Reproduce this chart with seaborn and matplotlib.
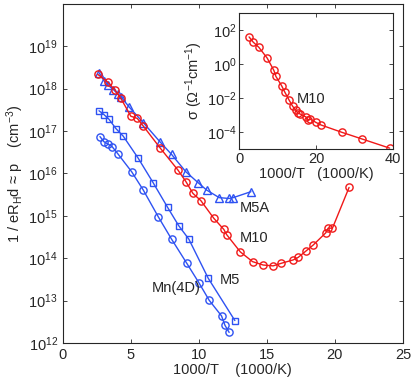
import numpy as np
import pandas as pd
import matplotlib
matplotlib.use("Agg")
import matplotlib.pyplot as plt
import seaborn as sns

# ================================
# Data
# ================================
mn4d_x = [2.74, 3.03, 3.35, 3.64, 4.04, 5.07, 5.92, 7.02, 8.00, 9.10, 10.03, 10.76, 11.67, 11.92, 12.23]
mn4d_logp = [16.87, 16.75, 16.69, 16.63, 16.47, 16.04, 15.61, 14.98, 14.45, 13.89, 13.41, 13.01, 12.64, 12.42, 12.25]

m5_x = [2.67, 3.03, 3.40, 3.91, 4.45, 5.55, 6.65, 7.71, 8.52, 9.27, 10.69, 12.65]
m5_logp = [17.48, 17.39, 17.28, 17.06, 16.88, 16.36, 15.78, 15.20, 14.77, 14.45, 13.53, 12.53]

m5a_x = [2.67, 3.03, 3.35, 3.72, 4.08, 4.28, 4.88, 5.92, 7.14, 8.00, 9.05, 9.96, 10.57, 11.50, 12.23, 12.53, 13.83]
m5a_logp = [18.38, 18.19, 18.08, 17.98, 17.87, 17.81, 17.57, 17.20, 16.75, 16.45, 16.04, 15.78, 15.61, 15.43, 15.41, 15.43, 15.57]

m10_x = [2.57, 3.30, 3.84, 4.28, 5.01, 5.48, 5.92, 7.14, 8.47, 9.05, 9.57, 10.15, 11.11, 11.84, 12.04,
         13.05, 13.95, 14.73, 15.46, 16.05, 16.93, 17.30, 17.91, 18.40, 19.33, 19.50, 19.82, 21.04]
m10_logp = [18.34, 18.16, 17.97, 17.77, 17.35, 17.30, 17.12, 16.61, 16.08, 15.81, 15.53, 15.36, 14.94, 14.68, 14.56,
            14.15, 13.92, 13.84, 13.82, 13.88, 13.96, 14.02, 14.18, 14.31, 14.60, 14.71, 14.71, 15.67]

# inset: conductivity of M10
sig_x = [2.61, 3.65, 5.14, 7.30, 9.05, 9.57, 11.06, 11.92, 13.04, 13.93, 14.79, 15.23, 15.83,
         17.40, 17.84, 18.44, 20.00, 21.31, 26.71, 31.92, 39.12]
sig_log = [1.59, 1.29, 0.98, 0.35, -0.38, -0.73, -1.28, -1.67, -2.14, -2.49, -2.73, -2.88, -2.94,
           -3.12, -3.28, -3.24, -3.44, -3.59, -4.02, -4.41, -4.95]

blue = "#2e52f2"
red = "#f01818"

# ================================
# Figure
# ================================
sns.set_style("ticks")
plt.rcParams["font.family"] = ["Liberation Sans", "DejaVu Sans"]
plt.rcParams["mathtext.fontset"] = "custom"
plt.rcParams["mathtext.rm"] = "Liberation Sans"
plt.rcParams["mathtext.it"] = "Liberation Sans:italic"
plt.rcParams["font.size"] = 10.5

fig = plt.figure(figsize=(4.15, 3.81), dpi=100)
ax = fig.add_axes([0.151, 0.0997, 0.820, 0.890])

def draw(a, x, logy, marker, color, ms=5.2):
    d = pd.DataFrame({"x": x, "y": 10 ** np.array(logy)})
    sns.lineplot(data=d, x="x", y="y", ax=a, estimator=None, sort=False, color=color,
                 marker=marker, markersize=ms, markerfacecolor="none", markeredgecolor=color,
                 markeredgewidth=1.0, linewidth=1.0)

draw(ax, mn4d_x, mn4d_logp, "o", blue)
draw(ax, m5_x, m5_logp, "s", blue, ms=4.8)
draw(ax, m5a_x, m5a_logp, "^", blue)
draw(ax, m10_x, m10_logp, "o", red)

ax.set_yscale("log")
ax.set_xlim(0, 25)
ax.set_ylim(1e12, 1e20)
ax.set_xticks([0, 5, 10, 15, 20, 25])
ax.set_yticks([10.0 ** k for k in range(12, 20)])
ax.yaxis.set_minor_locator(matplotlib.ticker.NullLocator())
ax.tick_params(direction="in", top=True, right=True, length=3, width=0.6, labelsize=10.5)
ax.set_xlabel("1000/T    (1000/K)", labelpad=1)
ax.set_ylabel(r"1 / eR$_\mathrm{H}$d ≈ p    (cm$^{-3}$)", labelpad=2)
for s in ax.spines.values():
    s.set_linewidth(0.8)

ax.text(13.03, 10 ** 15.18, "M5A", va="center", ha="left", fontsize=10.5)
ax.text(13.03, 10 ** 14.48, "M10", va="center", ha="left", fontsize=10.5)
ax.text(11.55, 10 ** 13.49, "M5", va="center", ha="left", fontsize=10.5)
ax.text(6.53, 10 ** 13.29, "Mn(4D)", va="center", ha="left", fontsize=10.5)

# ================================
# Inset
# ================================
ins = fig.add_axes([0.576, 0.609, 0.371, 0.357])
draw(ins, sig_x, sig_log, "o", red)
ins.set_yscale("log")
ins.set_xlim(0, 40)
ins.set_ylim(1e-5, 1e3)
ins.set_xticks([0, 20, 40])
ins.set_yticks([1e-4, 1e-2, 1e0, 1e2])
ins.yaxis.set_minor_locator(matplotlib.ticker.NullLocator())
ins.tick_params(direction="in", top=True, right=True, length=3, width=0.6, labelsize=10.5, pad=2)
ins.set_xlabel("1000/T   (1000/K)", labelpad=1)
ins.set_ylabel(r"σ (Ω$^{-1}$cm$^{-1}$)", labelpad=1)
ins.text(15.1, 10 ** -2.04, "M10", va="center", ha="left", fontsize=10.5)
for s in ins.spines.values():
    s.set_linewidth(0.8)

fig.savefig("out.png", dpi=100)
